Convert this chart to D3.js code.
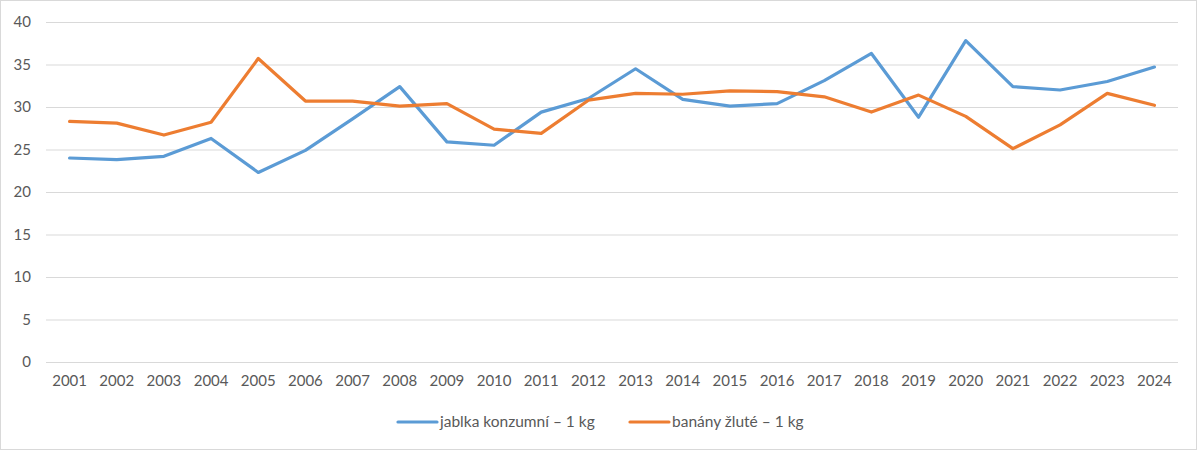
<!DOCTYPE html>
<html>
<head>
<meta charset="utf-8">
<script src="https://cdn.jsdelivr.net/npm/d3@7"></script>
<style>
  body { margin: 0; background: #fff; }
  text { font-family: Lato, "Open Sans", sans-serif; fill: #595959; }
</style>
</head>
<body>
<div id="chart"></div>
<script>
// data (Kč)
const years = ["2001","2002","2003","2004","2005","2006","2007","2008","2009","2010","2011","2012",
  "2013","2014","2015","2016","2017","2018","2019","2020","2021","2022","2023","2024"];
const jablka = [24.0, 23.8, 24.2, 26.3, 22.3, 24.9, 28.6, 32.4, 25.9, 25.5, 29.4, 31.0,
  34.5, 30.9, 30.1, 30.4, 33.1, 36.3, 28.8, 37.8, 32.4, 32.0, 33.0, 34.7];
const banany = [28.3, 28.1, 26.7, 28.2, 35.7, 30.7, 30.7, 30.1, 30.4, 27.4, 26.9, 30.8,
  31.6, 31.5, 31.9, 31.8, 31.2, 29.4, 31.4, 28.9, 25.1, 27.9, 31.6, 30.2];
const yTicks = [0, 5, 10, 15, 20, 25, 30, 35, 40];
const series = [
  { name: "jablka konzumní – 1 kg", values: jablka, color: "#5B9BD5" },
  { name: "banány žluté – 1 kg", values: banany, color: "#ED7D31" }
];

const width = 1200, height = 451;
const margin = { top: 22, right: 22, bottom: 89, left: 46 };

const svg = d3.select("#chart").append("svg")
  .attr("width", width)
  .attr("height", height);

// outer frame
svg.append("rect")
  .attr("x", 0.5).attr("y", 0.5)
  .attr("width", width - 4).attr("height", height - 2)
  .attr("fill", "none")
  .attr("stroke", "#D9D9D9");

const x = d3.scaleBand()
  .domain(years)
  .range([margin.left, width - margin.right]);

const y = d3.scaleLinear()
  .domain([0, 40])
  .range([height - margin.bottom, margin.top]);

// gridlines + y labels
const yAxis = svg.append("g")
  .attr("transform", `translate(${margin.left},0)`)
  .call(d3.axisLeft(y).tickValues(yTicks)
    .tickSize(-(width - margin.left - margin.right))
    .tickPadding(15));
yAxis.select(".domain").remove();
yAxis.selectAll("line").attr("stroke", "#D9D9D9").attr("stroke-width", 1);
yAxis.selectAll("text").style("font-size", "15px").attr("fill", "#595959");

// x labels
const xAxis = svg.append("g")
  .attr("transform", `translate(0,${height - margin.bottom})`)
  .call(d3.axisBottom(x).tickSize(0).tickPadding(13));
xAxis.select(".domain").remove();
xAxis.selectAll("text").style("font-size", "15px").attr("fill", "#595959");

const line = d3.line()
  .x((d, i) => x(years[i]) + x.bandwidth() / 2)
  .y(d => y(d));

svg.selectAll(".series")
  .data(series)
  .enter()
  .append("path")
  .attr("class", "series")
  .attr("d", d => line(d.values))
  .attr("fill", "none")
  .attr("stroke", d => d.color)
  .attr("stroke-width", 3.2)
  .attr("stroke-linejoin", "round")
  .attr("stroke-linecap", "round");

// legend
const legendX = [398, 630];
const legend = svg.selectAll(".legend")
  .data(series)
  .enter()
  .append("g")
  .attr("class", "legend")
  .attr("transform", (d, i) => `translate(${legendX[i]},422)`);
legend.append("line")
  .attr("x1", 0).attr("x2", 39)
  .attr("stroke", d => d.color)
  .attr("stroke-width", 3.2)
  .attr("stroke-linecap", "round");
legend.append("text")
  .attr("x", 42)
  .attr("dy", "0.35em")
  .style("font-size", "15.5px")
  .text(d => d.name);
</script>
</body>
</html>
